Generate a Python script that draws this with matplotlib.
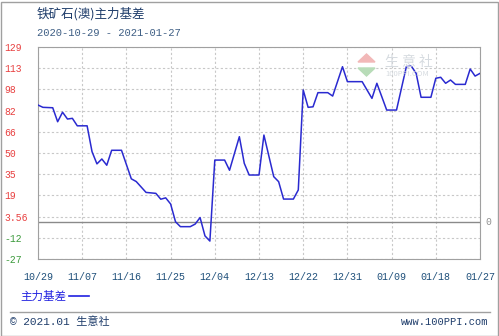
import matplotlib.pyplot as plt
import matplotlib.dates as mdates
from matplotlib.patches import Rectangle, Polygon
import pandas as pd

plt.rcParams['font.family'] = ['Noto Sans CJK SC', 'DejaVu Sans']
MONO = ['Liberation Mono', 'Noto Sans CJK SC']

# 数据：铁矿石(澳)主力基差
dates = ['2020-10-29', '2020-10-30', '2020-11-01', '2020-11-02', '2020-11-03', '2020-11-04',
         '2020-11-05', '2020-11-06', '2020-11-08', '2020-11-09', '2020-11-10', '2020-11-11',
         '2020-11-12', '2020-11-13', '2020-11-15', '2020-11-17', '2020-11-18', '2020-11-20',
         '2020-11-22', '2020-11-23', '2020-11-24', '2020-11-25', '2020-11-26', '2020-11-27',
         '2020-11-29', '2020-11-30', '2020-12-01', '2020-12-02', '2020-12-03', '2020-12-04',
         '2020-12-06', '2020-12-07', '2020-12-09', '2020-12-10', '2020-12-11', '2020-12-13',
         '2020-12-14', '2020-12-16', '2020-12-17', '2020-12-18', '2020-12-20', '2020-12-21',
         '2020-12-22', '2020-12-23', '2020-12-24', '2020-12-25', '2020-12-27', '2020-12-28',
         '2020-12-30', '2020-12-31', '2021-01-03', '2021-01-05', '2021-01-06', '2021-01-08',
         '2021-01-10', '2021-01-12', '2021-01-13', '2021-01-14', '2021-01-15', '2021-01-17',
         '2021-01-18', '2021-01-19', '2021-01-20', '2021-01-21', '2021-01-22', '2021-01-24',
         '2021-01-25', '2021-01-26', '2021-01-27']
basis = [86.3, 84.6, 84.3, 74, 81, 76,
         76.5, 71, 71, 52, 43, 46.6,
         42, 53, 53, 32, 30, 22,
         21.3, 17, 18, 13.5, 0.4, -3.2,
         -3.2, -1.3, 3.5, -10, -13.8, 45.8,
         45.8, 38.3, 63, 43.4, 34.8, 34.8,
         64.2, 33.6, 29.9, 17.1, 17.1, 23.8,
         97.4, 84.6, 85, 95.4, 95.4, 92.9,
         114.5, 103.5, 103.5, 91.2, 102.3, 82.6,
         82.6, 114.5, 115, 109.6, 92, 92,
         106, 106.7, 102.3, 104.7, 101.5, 101.5,
         112.8, 107.6, 109.6]

y_ticks = [129, 113.4, 97.8, 82.2, 66.6, 51, 35.4, 19.8, 4.2, -11.4, -27]
y_labels = ['129', '113', '98', '82', '66', '50', '35', '19', '3.56', '-12', '-27']
x_start, x_end = '2020-10-29', '2021-01-27'

x = pd.to_datetime(dates)
W, H = 499, 336
fig = plt.figure(figsize=(W / 100, H / 100), dpi=100)
ax = fig.add_axes([38 / W, 1 - 259 / H, (480 - 38) / W, (259 - 47) / H])

ax.plot(x, basis, color='#2a2ad0', lw=1.1, zorder=3)
ax.axhline(0, color='#8a8a8a', lw=1, zorder=2)

ax.set_xlim(pd.Timestamp(x_start), pd.Timestamp(x_end))
ax.set_ylim(-27, 129)
xt = pd.date_range(x_start, x_end, freq='9D')
ax.set_xticks(xt)
ax.xaxis.set_major_formatter(mdates.DateFormatter('%m/%d'))
ax.set_yticks(y_ticks)
ax.set_yticklabels(y_labels)
ax.grid(True, color='#c8c8c8', ls=(0, (2, 2)), lw=0.8)
ax.tick_params(length=0)
ax.tick_params(axis='x', pad=9, labelsize=7.2, labelcolor='#1e4f7a')
ax.tick_params(axis='y', pad=24, labelsize=7)
for lab in ax.get_xticklabels():
    lab.set_family(MONO)
for lab, v in zip(ax.get_yticklabels(), y_ticks):
    lab.set_family(MONO)
    lab.set_horizontalalignment('left')
    lab.set_color('#e84040' if v > 0 else '#3c9a3c')
for s in ax.spines.values():
    s.set_color('#a0a0a0')

ax.text(1.012, 0, '0', transform=ax.get_yaxis_transform(), va='center', ha='left',
        fontsize=7, color='#909090', family=MONO)

# 标题
fig.text(37 / W, 1 - 14 / H, '铁矿石(澳)主力基差', fontsize=9, color='#1f3d6b', va='center')
fig.text(37 / W, 1 - 33 / H, '2020-10-29 - 2021-01-27', fontsize=7.6, color='#3f5f85',
         va='center', family=MONO)

# 水印
fig.text(385 / W, 1 - 62 / H, '生 意 社', fontsize=10, color='#d6dbe0', va='center', zorder=1)
fig.text(385 / W, 1 - 74 / H, '100PPI.COM', fontsize=5.5, color='#d6dbe0', va='center', zorder=1)
fig.patches.append(Polygon([[358 / W, 1 - 62 / H], [375 / W, 1 - 62 / H], [366.5 / W, 1 - 54 / H]],
                           transform=fig.transFigure, color='#f2b8b8', zorder=1))
fig.patches.append(Polygon([[358 / W, 1 - 68 / H], [375 / W, 1 - 68 / H], [366.5 / W, 1 - 76 / H]],
                           transform=fig.transFigure, color='#b8dcb8', zorder=1))

# 图例与页脚
fig.text(20 / W, 1 - 296 / H, '主力基差', fontsize=8.3, color='#2020e0', va='center')
fig.add_artist(plt.Line2D([69 / W, 89 / W], [1 - 296 / H, 1 - 296 / H], color='#2020e0', lw=1.2))
fig.add_artist(plt.Line2D([10 / W, 490 / W], [1 - 312 / H, 1 - 312 / H], color='#a0a0a0', lw=1))
fig.text(10 / W, 1 - 322 / H, '© 2021.01 生意社', fontsize=8, color='#1f3d6b', va='center',
         family=MONO)
fig.text(488 / W, 1 - 322 / H, 'www.100PPI.com', fontsize=7.5, color='#1f3d6b', va='center',
         ha='right', family=MONO)
fig.patches.append(Rectangle((0.5 / W, 0.5 / H), (W - 2) / W, (H - 2) / H, transform=fig.transFigure,
                             fill=False, edgecolor='#a0a0a0', lw=1))

fig.savefig('out.png', dpi=100)
